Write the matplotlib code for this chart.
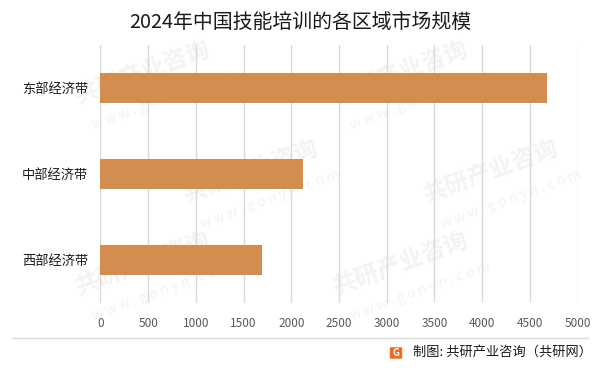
import matplotlib
matplotlib.use('Agg')
import matplotlib.pyplot as plt
from matplotlib.patches import FancyBboxPatch
from matplotlib.lines import Line2D

plt.rcParams['font.family'] = ['Noto Sans CJK SC', 'DejaVu Sans']

# data
regions = ['东部经济带', '中部经济带', '西部经济带']
values = [4680, 2120, 1690]
xticks = [0, 500, 1000, 1500, 2000, 2500, 3000, 3500, 4000, 4500, 5000]
title = '2024年中国技能培训的各区域市场规模'
source = '制图: 共研产业咨询（共研网）'

fig = plt.figure(figsize=(6.01, 3.68), dpi=100)

# faint watermarks behind the chart
for wx, wy in [(0.12, 0.72), (0.55, 0.72), (0.3, 0.45), (0.7, 0.45), (0.12, 0.2), (0.55, 0.2)]:
    fig.text(wx, wy, '共研产业咨询', fontsize=17, fontweight='bold', color='#f3f3f3',
             rotation=20, zorder=0)
    fig.text(wx + 0.03, wy - 0.07, 'w w w . g o n y n . c o m', fontsize=10, color='#f3f3f3',
             rotation=20, zorder=0)

ax = fig.add_axes([0.1672, 0.1766, 0.7937, 0.7011])
ax.set_zorder(2)
ax.patch.set_alpha(0)
pos = list(range(len(regions)))
ax.barh(pos, values, height=0.35, color='#D38D4F', zorder=3)
ax.set_ylim(len(regions) - 0.5, -0.5)
ax.set_xlim(0, 5000)
ax.set_yticks(pos)
ax.set_yticklabels(regions, fontsize=9.5, color='#1a1a1a')
ax.set_xticks(xticks)
ax.set_xticklabels([str(t) for t in xticks], fontsize=8.5, color='#595959')
ax.grid(axis='x', color='#d9d9d9', linewidth=1, zorder=0)
for s in ax.spines.values():
    s.set_visible(False)
ax.tick_params(axis='both', length=0)
ax.tick_params(axis='x', pad=10)
ax.tick_params(axis='y', pad=9)

fig.text(0.5, 0.94, title, ha='center', va='center', fontsize=14.3, color='#1a1a1a')

# footer line and source
fig.add_artist(Line2D([0.02, 0.978], [1 - 338 / 368, 1 - 338 / 368],
                      color='#d9d9d9', linewidth=1))
logo = FancyBboxPatch((391 / 601, 1 - 358 / 368), 10 / 601, 10 / 368,
                      boxstyle='round,pad=0.002', facecolor='#f26a1b', edgecolor='none',
                      transform=fig.transFigure)
fig.add_artist(logo)
fig.text(396 / 601, 1 - 352.5 / 368, 'G', ha='center', va='center', fontsize=7,
         fontweight='bold', color='white')
fig.text(0.985, 1 - 352 / 368, source, ha='right', va='center',
         fontsize=9.5, color='#1a1a1a')

plt.savefig('out.png', dpi=100)
